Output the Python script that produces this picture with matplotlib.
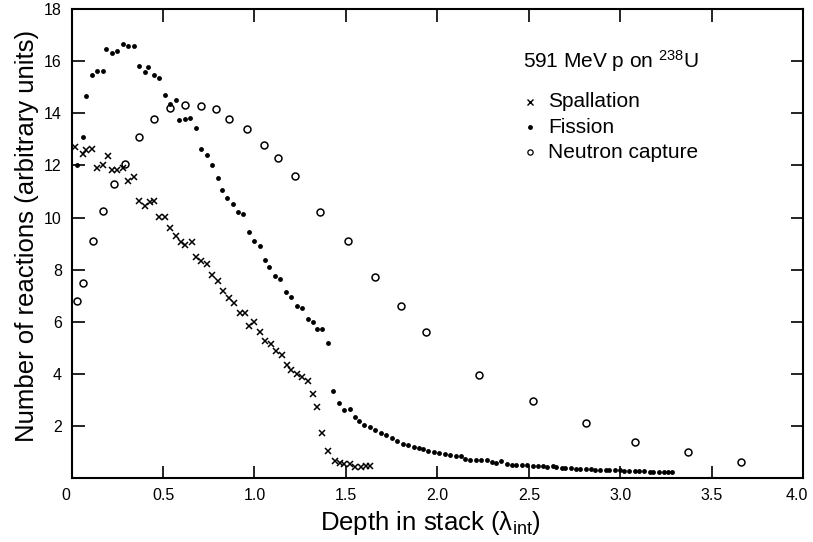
import matplotlib.pyplot as plt
from matplotlib.transforms import ScaledTranslation

plt.rcParams['font.family'] = ['Liberation Sans', 'DejaVu Sans']
plt.rcParams['mathtext.fontset'] = 'custom'
plt.rcParams['mathtext.rm'] = 'Liberation Sans'
plt.rcParams['mathtext.it'] = 'Liberation Sans:italic'

# spallation (x markers)
spall_x = [0.02, 0.06, 0.08, 0.11, 0.14, 0.17, 0.20, 0.22, 0.25, 0.28, 0.31, 0.34,
           0.37, 0.40, 0.43, 0.45, 0.48, 0.51, 0.54, 0.57, 0.60, 0.62, 0.66, 0.68,
           0.71, 0.74, 0.77, 0.80, 0.83, 0.86, 0.89, 0.92, 0.95, 0.97, 1.00, 1.03,
           1.06, 1.09, 1.12, 1.15, 1.18, 1.20, 1.23, 1.26, 1.29, 1.32, 1.34, 1.37,
           1.40, 1.44, 1.47, 1.49, 1.52, 1.55, 1.58, 1.61, 1.63]
spall_y = [12.70, 12.43, 12.59, 12.63, 11.92, 12.03, 12.35, 11.83, 11.83, 11.91, 11.41, 11.57,
           10.65, 10.46, 10.59, 10.62, 10.01, 10.01, 9.59, 9.31, 9.06, 8.94, 9.06, 8.47,
           8.35, 8.20, 7.80, 7.56, 7.18, 6.92, 6.72, 6.33, 6.33, 5.85, 6.00, 5.62,
           5.28, 5.13, 4.86, 4.74, 4.35, 4.13, 3.99, 3.87, 3.71, 3.23, 2.73, 1.72,
           1.05, 0.65, 0.56, 0.55, 0.54, 0.43, 0.43, 0.47, 0.47]

# fission (filled dots)
fis_x = [0.03, 0.06, 0.08, 0.11, 0.14, 0.17, 0.19, 0.22, 0.25, 0.28, 0.31, 0.34,
         0.37, 0.40, 0.42, 0.45, 0.48, 0.51, 0.54, 0.57, 0.59, 0.62, 0.65, 0.68,
         0.71, 0.74, 0.77, 0.80, 0.82, 0.85, 0.88, 0.91, 0.94, 0.97, 1.00, 1.03,
         1.06, 1.08, 1.11, 1.14, 1.17, 1.20, 1.23, 1.26, 1.29, 1.32, 1.34, 1.37,
         1.40, 1.43, 1.46, 1.49, 1.52, 1.55, 1.57, 1.60, 1.63, 1.66, 1.69, 1.72,
         1.75, 1.78, 1.81, 1.84, 1.87, 1.90, 1.92, 1.95, 1.98, 2.01, 2.04, 2.07,
         2.10, 2.13, 2.15, 2.18, 2.21, 2.24, 2.27, 2.30, 2.32, 2.35, 2.38, 2.41,
         2.43, 2.46, 2.49, 2.52, 2.55, 2.58, 2.60, 2.63, 2.65, 2.68, 2.70, 2.73,
         2.76, 2.78, 2.81, 2.84, 2.86, 2.89, 2.92, 2.94, 2.97, 3.00, 3.02, 3.05,
         3.08, 3.10, 3.13, 3.16, 3.18, 3.21, 3.24, 3.26, 3.28]
fis_y = [12.03, 13.08, 14.68, 15.49, 15.64, 15.64, 16.46, 16.31, 16.38, 16.68, 16.59, 16.59,
         15.83, 15.59, 15.78, 15.47, 15.37, 14.70, 14.35, 14.50, 13.73, 13.80, 13.83, 13.45,
         12.62, 12.40, 12.00, 11.51, 11.04, 10.74, 10.51, 10.22, 10.12, 9.46, 9.12, 8.92,
         8.37, 8.12, 7.77, 7.63, 7.14, 6.95, 6.62, 6.53, 6.09, 6.00, 5.72, 5.72,
         5.18, 3.35, 2.90, 2.60, 2.64, 2.35, 2.19, 2.05, 1.95, 1.85, 1.74, 1.64,
         1.53, 1.42, 1.32, 1.28, 1.19, 1.15, 1.10, 1.05, 1.01, 0.95, 0.92, 0.87,
         0.83, 0.83, 0.73, 0.69, 0.68, 0.68, 0.68, 0.63, 0.59, 0.64, 0.54, 0.50,
         0.50, 0.49, 0.49, 0.46, 0.46, 0.47, 0.43, 0.45, 0.41, 0.40, 0.38, 0.38,
         0.36, 0.33, 0.35, 0.33, 0.31, 0.32, 0.30, 0.30, 0.29, 0.29, 0.27, 0.28,
         0.27, 0.26, 0.27, 0.25, 0.24, 0.25, 0.23, 0.24, 0.25]

# neutron capture (open circles)
cap_x = [0.03, 0.06, 0.12, 0.17, 0.23, 0.29, 0.37, 0.45, 0.54, 0.62, 0.71, 0.79,
         0.86, 0.96, 1.05, 1.13, 1.22, 1.36, 1.51, 1.66, 1.80, 1.94, 2.23, 2.52,
         2.81, 3.08, 3.37, 3.66]
cap_y = [6.81, 7.49, 9.09, 10.27, 11.30, 12.06, 13.08, 13.79, 14.19, 14.31, 14.28, 14.18,
         13.79, 13.41, 12.79, 12.30, 11.60, 10.23, 9.12, 7.72, 6.62, 5.62, 3.96, 2.96,
         2.10, 1.40, 1.01, 0.62]

xticks = [0, 0.5, 1.0, 1.5, 2.0, 2.5, 3.0, 3.5, 4.0]
xticklabels = ['0', '0.5', '1.0', '1.5', '2.0', '2.5', '3.0', '3.5', '4.0']
yticks = [2, 4, 6, 8, 10, 12, 14, 16, 18]

fig = plt.figure(figsize=(8.13, 5.42), dpi=100)
ax = fig.add_axes([0.088, 0.118, 0.900, 0.865])

ax.plot(spall_x, spall_y, 'x', color='black', markersize=5, mew=1.1)
ax.plot(fis_x, fis_y, 'o', color='black', markersize=3.5, mew=0)
ax.plot(cap_x, cap_y, 'o', mfc='none', mec='black', markersize=5, mew=1.1)

ax.set_xlim(0, 4)
ax.set_ylim(0, 18)
ax.set_xticks(xticks)
ax.set_xticklabels(xticklabels)
ax.set_yticks(yticks)
ax.tick_params(direction='in', top=True, right=True, length=9, width=1.2,
               labelsize=11.5, pad=7)
for sp in ax.spines.values():
    sp.set_linewidth(1.5)
# first and last x labels sit a little inward, as in the scan
xl = ax.get_xticklabels()
xl[0].set_transform(xl[0].get_transform() + ScaledTranslation(-6 / 100, 0, fig.dpi_scale_trans))
xl[-1].set_transform(xl[-1].get_transform() + ScaledTranslation(-6 / 100, 0, fig.dpi_scale_trans))

ax.set_xlabel(r'Depth in stack ($\mathrm{\lambda}_{\mathrm{int}}$)', fontsize=18.5)
ax.set_ylabel('Number of reactions (arbitrary units)', fontsize=18.5)
ax.xaxis.set_label_coords(0.49, -0.066)
ax.yaxis.set_label_coords(-0.045, 0.517)

# legend drawn by hand
ax.text(0.617, 0.876, r'591 MeV p on $^{238}$U', transform=ax.transAxes, fontsize=15,
        va='baseline')
labels = ['Spallation', 'Fission', 'Neutron capture']
text_y = [0.791, 0.737, 0.683]
mark_y = [0.803, 0.749, 0.696]
ax.plot(0.626, mark_y[0], 'x', color='black', markersize=4.5, mew=1.0, transform=ax.transAxes)
ax.plot(0.626, mark_y[1], 'o', color='black', markersize=3.5, mew=0, transform=ax.transAxes)
ax.plot(0.626, mark_y[2], 'o', mfc='none', mec='black', markersize=3.8, mew=0.9,
        transform=ax.transAxes)
for lab, yy in zip(labels, text_y):
    ax.text(0.651, yy, lab, transform=ax.transAxes, fontsize=15, va='baseline')

plt.savefig('out.png', dpi=100)
